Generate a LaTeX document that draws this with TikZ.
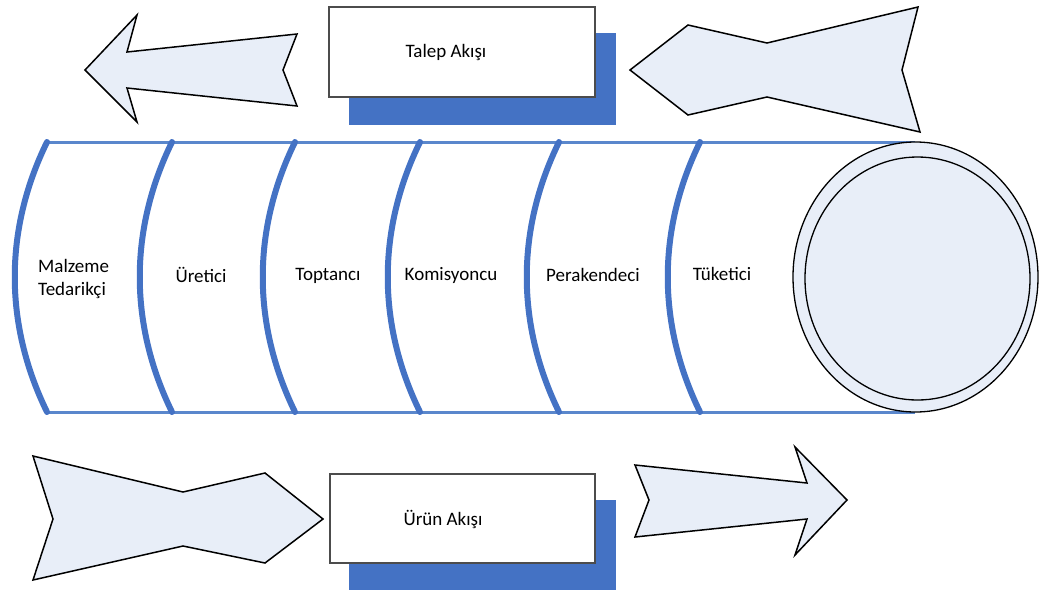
\documentclass[tikz,border=0pt]{standalone}
\usepackage{fontspec}
\setmainfont{Carlito}
\definecolor{wblue}{HTML}{4472C4}
\definecolor{lineblue}{HTML}{5A87CC}
\definecolor{pale}{HTML}{E8EEF8}
\begin{document}
\begin{tikzpicture}[x=1pt,y=-1pt,
  flow/.style={draw=black, line width=1.5pt, fill=pale, line join=miter},
  band/.style={draw=wblue, line width=6pt, line cap=round},
  rim/.style={draw=lineblue, line width=3pt},
  lbl/.style={font=\fontsize{19}{23}\selectfont, text=black, inner sep=0pt},
  flowbox/.style={draw=black!70, line width=2.6pt, fill=white, inner sep=0pt},
  shadowbox/.style={fill=wblue}]
\useasboundingbox (0,0) rectangle (1039,590);
% flow shapes
\draw[flow] (85,70) -- (137,15) -- (127,52) -- (297,34) -- (283,70) -- (297,106) -- (127,88) -- (137,122) -- cycle;
\draw[flow] (630,70) -- (688,25) -- (767,43) -- (918,7) -- (902,70) -- (920,132) -- (767,97) -- (688,115) -- cycle;
\draw[flow] (33,456) -- (183,492) -- (265,473) -- (323,519) -- (265,563) -- (183,546) -- (33,580) -- (53,519) -- cycle;
\draw[flow] (635,465) -- (807,483) -- (795,447) -- (847,500) -- (795,555) -- (807,519) -- (635,537) -- (649,500) -- cycle;
% boxes
\fill[shadowbox] (349,33) rectangle (616,125);
\node[flowbox, minimum width=266pt, minimum height=90pt] (tbox) at (462,52) {};
\node[lbl] (ttext) at (446,52) {Talep Akışı};
\fill[shadowbox] (349,500) rectangle (616,590);
\node[flowbox, minimum width=265pt, minimum height=89pt] (ubox) at (462.5,518.5) {};
\node[lbl] (utext) at (443,519) {Ürün Akışı};
% cylinder
\draw[rim] (47,142) -- (915,142);
\draw[rim] (47,412) -- (915,412);
\foreach \xx in {47,172,295,420,559,700}{
  \draw[band] (\xx,142) .. controls (\xx-43,230) and (\xx-43,324) .. (\xx,412);
}
\draw[black, line width=1.3pt, fill=pale] (915.5,277) ellipse [x radius=122.5pt, y radius=135pt];
\draw[black, line width=1.3pt, fill=pale] (917.5,278.5) ellipse [x radius=112.5pt, y radius=121.5pt];
% labels
\node[lbl, align=left, anchor=west] (l1) at (38,279) {Malzeme\\Tedarikçi};
\node[lbl] (l2) at (201,275) {Üretici};
\node[lbl] (l3) at (328,276) {Toptancı};
\node[lbl] (l4) at (451,275) {Komisyoncu};
\node[lbl] (l5) at (593,275) {Perakendeci};
\node[lbl] (l6) at (722,274) {Tüketici};
\end{tikzpicture}
\end{document}
